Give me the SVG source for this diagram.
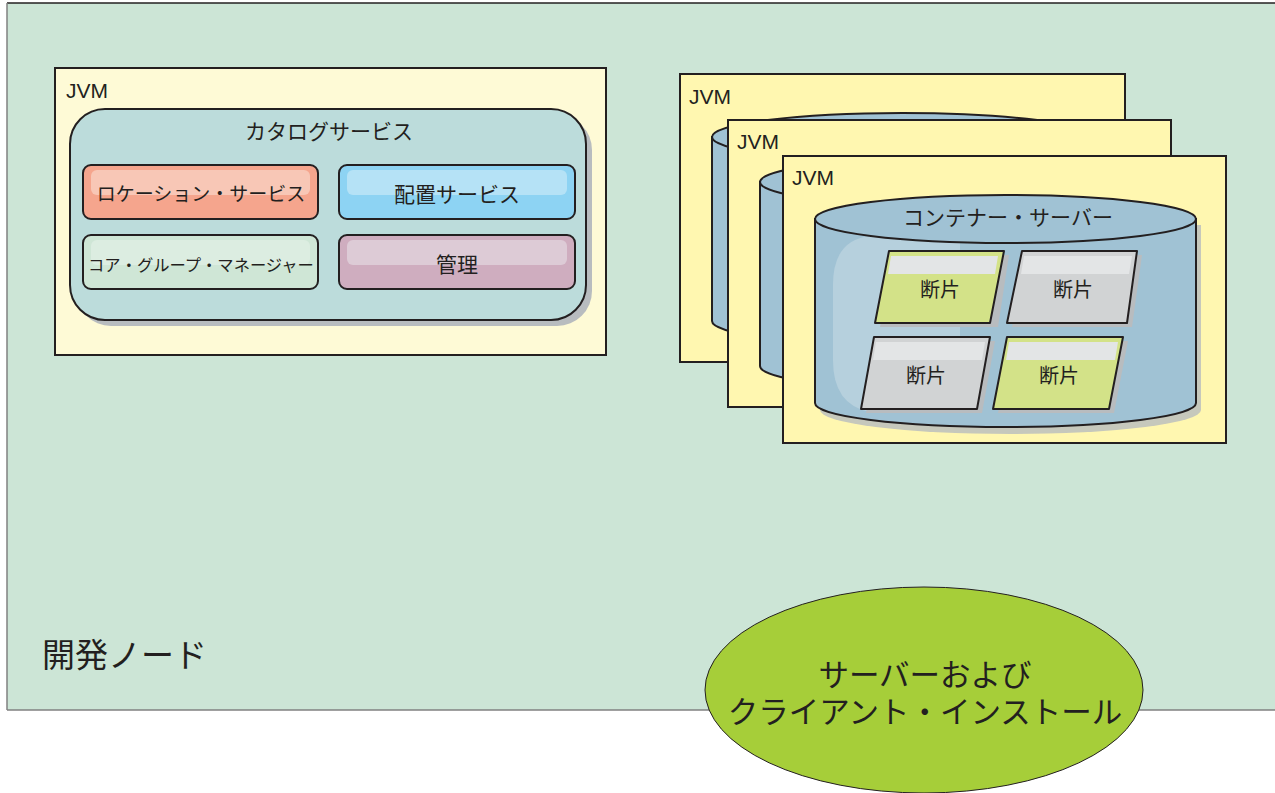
<svg xmlns="http://www.w3.org/2000/svg" width="1275" height="793" viewBox="0 0 1275 793">
<style>
.jp{font-family:"Noto Sans CJK JP","Liberation Sans",sans-serif;fill:#231f20}
.lat{font-family:"Liberation Sans",Arial,sans-serif;fill:#231f20}
.jvmL{fill:#fefad6;stroke:#231f20;stroke-width:2}
.jvmR{fill:#fff7b0;stroke:#231f20;stroke-width:2}
.cyl{fill:#a0c2d4;stroke:#231f20;stroke-width:2}
.sub{stroke:#231f20;stroke-width:2}
.shard{stroke:#231f20;stroke-width:2;stroke-linejoin:round}
.shadow{fill:#b8bcbf}
</style>
<g id="background">
<rect x="7" y="3" width="1270" height="707" fill="#cce5d6"/>
<line x1="7" y1="3" x2="1275" y2="3" stroke="#231f20" stroke-width="1.5"/>
<line x1="7" y1="3" x2="7" y2="710" stroke="#808080" stroke-width="1.5"/>
<line x1="7" y1="710" x2="1275" y2="710" stroke="#808080" stroke-width="1.5"/>
<text class="jp" x="42" y="667" font-size="33">開発ノード</text>
</g>
<g id="jvm-catalog">
<rect class="jvmL" x="55" y="68" width="551" height="287"/>
<text class="lat" x="66" y="98" font-size="21">JVM</text>
<g id="catalog-service">
<rect class="shadow" x="76" y="115" width="516" height="211" rx="35"/>
<rect x="70" y="109" width="516" height="211" rx="35" fill="#bcdcdb" stroke="#231f20" stroke-width="2"/>
<text class="jp" x="329" y="139" font-size="21" text-anchor="middle">カタログサービス</text>
</g>
<g id="location-service">
<rect class="sub" x="83" y="165" width="235" height="54" rx="8" fill="#f5a58d"/>
<rect x="91" y="170" width="219" height="25" rx="6" fill="#f8c7b6"/>
<text class="jp" x="201" y="201" font-size="19" text-anchor="middle">ロケーション・サービス</text>
</g>
<g id="placement-service">
<rect class="sub" x="339" y="165" width="236" height="54" rx="8" fill="#8dd3f3"/>
<rect x="347" y="170" width="220" height="25" rx="6" fill="#b5e2f6"/>
<text class="jp" x="457" y="202" font-size="21" text-anchor="middle">配置サービス</text>
</g>
<g id="core-group-manager">
<rect class="sub" x="83" y="235" width="235" height="54" rx="8" fill="#cfe6d6"/>
<rect x="91" y="240" width="219" height="25" rx="6" fill="#dcede1"/>
<text class="jp" x="201" y="271" font-size="16.3" text-anchor="middle">コア・グループ・マネージャー</text>
</g>
<g id="management">
<rect class="sub" x="339" y="235" width="236" height="54" rx="8" fill="#cfadbf"/>
<rect x="347" y="240" width="220" height="25" rx="6" fill="#ddcbd6"/>
<text class="jp" x="457" y="272" font-size="21" text-anchor="middle">管理</text>
</g>
</g>
<g id="jvm-1">
<rect class="jvmR" x="680" y="74" width="445" height="288"/>
<text class="lat" x="689" y="104" font-size="21">JVM</text>
<path class="cyl" d="M712,137 L712,321 A190.5,24 0 0 0 1093,321 L1093,137 Z"/>
<ellipse class="cyl" cx="902.5" cy="137" rx="190.5" ry="24"/>
</g>
<g id="jvm-2">
<rect class="jvmR" x="728" y="120" width="443" height="287"/>
<text class="lat" x="737" y="149" font-size="21">JVM</text>
<path class="cyl" d="M760,182 L760,366 A190.5,24 0 0 0 1141,366 L1141,182 Z"/>
<ellipse class="cyl" cx="950.5" cy="182" rx="190.5" ry="24"/>
</g>
<g id="jvm-3">
<rect class="jvmR" x="783" y="156" width="443" height="287"/>
<text class="lat" x="792" y="185" font-size="21">JVM</text>
<g id="container-server">
<path class="shadow" d="M820,225 L820,410 A190.5,24 0 0 0 1201,410 L1201,225 Z" opacity="0.8"/>
<path class="cyl" d="M815,219 L815,403 A190.5,24 0 0 0 1196,403 L1196,219 Z"/>
<path d="M870,236 L960,236 L960,412 L870,412 Q833,405 833,360 L833,285 Q833,240 870,236 Z" fill="#b6d0dd"/>
<ellipse class="cyl" cx="1005.5" cy="219" rx="190.5" ry="24"/>
<text class="jp" x="1008" y="225" font-size="21" text-anchor="middle">コンテナー・サーバー</text>
</g>
<g id="shard-1">
<path class="shadow" d="M894,255 L1009,255 L998,327 L880,327 Z"/>
<path class="shard" d="M889,251 L1004,251 L990,323 L875,323 Z" fill="#d3e288"/>
<path d="M891,256 L998,256 L995,274 L888,274 Z" fill="#e3e5e6"/>
<text class="jp" x="940" y="297" font-size="20" text-anchor="middle">断片</text>
</g>
<g id="shard-2">
<path class="shadow" d="M1027,255 L1142,255 L1132,327 L1012,327 Z"/>
<path class="shard" d="M1022,251 L1137,251 L1127,323 L1007,323 Z" fill="#d1d3d4"/>
<path d="M1024,256 L1132,256 L1129,274 L1021,274 Z" fill="#e3e5e6"/>
<text class="jp" x="1073" y="297" font-size="20" text-anchor="middle">断片</text>
</g>
<g id="shard-3">
<path class="shadow" d="M879,341 L995,341 L982,413 L866,413 Z"/>
<path class="shard" d="M874,337 L990,337 L977,409 L861,409 Z" fill="#d1d3d4"/>
<path d="M876,342 L985,342 L982,360 L873,360 Z" fill="#e3e5e6"/>
<text class="jp" x="926" y="383" font-size="20" text-anchor="middle">断片</text>
</g>
<g id="shard-4">
<path class="shadow" d="M1012,341 L1128,341 L1114,413 L998,413 Z"/>
<path class="shard" d="M1007,337 L1123,337 L1109,409 L993,409 Z" fill="#d3e288"/>
<path d="M1009,342 L1118,342 L1115,360 L1006,360 Z" fill="#e3e5e6"/>
<text class="jp" x="1059" y="383" font-size="20" text-anchor="middle">断片</text>
</g>
</g>
<g id="install">
<ellipse cx="924" cy="690" rx="219" ry="103" fill="#a6ce39" stroke="#231f20" stroke-width="1"/>
<text class="jp" font-size="30.5" text-anchor="middle"><tspan x="925" y="686">サーバーおよび</tspan><tspan x="925" y="723">クライアント・インストール</tspan></text>
</g>
<g id="connectors"/>
</svg>
